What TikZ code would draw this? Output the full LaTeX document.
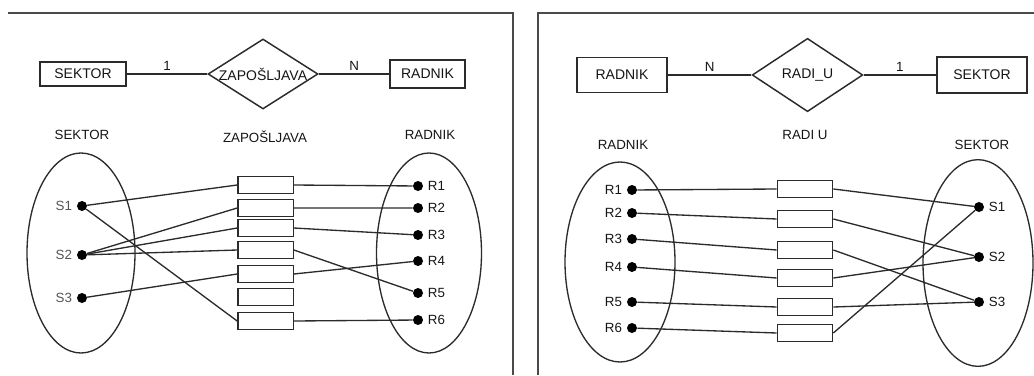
\documentclass[tikz,border=0pt]{standalone}
\usepackage{fontspec}
\setmainfont{Liberation Sans}
\usetikzlibrary{shapes.geometric, positioning}
\definecolor{inkline}{HTML}{2b2b2b}
\definecolor{inktext}{HTML}{151515}
\definecolor{inkgrey}{HTML}{555555}
\definecolor{framegrey}{HTML}{4a4a4a}

\tikzset{
  entity/.style={draw=inkline, line width=1.1pt, fill=white, inner sep=0pt,
    text=inktext, font=\fontsize{10.5}{12}\selectfont},
  relship/.style={diamond, draw=inkline, line width=1.1pt, fill=white, inner sep=0pt,
    label={[text=inktext, font=\fontsize{10.5}{12}\selectfont]center:#1}},
  settitle/.style={text=inktext, font=\fontsize{10}{12}\selectfont},
  setshape/.style={ellipse, draw=inkline, line width=1pt, inner sep=0pt},
  pairbox/.style={draw=inkline, line width=1pt, fill=white, inner sep=0pt,
    minimum width=41.5pt, minimum height=13pt},
  elem/.style={circle, fill=black, inner sep=0pt, minimum size=7.5pt,
    label distance=4pt},
  elemtext/.style={text=inktext, font=\fontsize{10}{12}\selectfont},
  conn/.style={draw=inkline, line width=1pt},
  card/.style={above, inner sep=2pt, text=inktext, font=\fontsize{10}{12}\selectfont},
  frameline/.style={draw=framegrey, line width=1.4pt}
}

\begin{document}
\begin{tikzpicture}[x=0.75pt, y=-0.75pt]
    \useasboundingbox (0,0) rectangle (1034,375);

    % left panel
    \draw[frameline] (8,13) -- (513,13) -- (513,375);
    \node[entity, minimum width=64.5pt, minimum height=18pt] (sekA) at (83,74) {SEKTOR};
    \node[relship=ZAPOŠLJAVA, minimum width=82.5pt, minimum height=52.5pt] (zap) at (263,74) {};
    \node[entity, minimum width=56pt, minimum height=21pt] (radA) at (427.5,74) {RADNIK};
    \draw[conn] (sekA) -- node[card] {1} (zap);
    \draw[conn] (zap) -- node[card] {N} (radA);

    \node[settitle] (tSekA) at (82,135) {SEKTOR};
    \node[settitle] (tZap) at (265,137) {ZAPOŠLJAVA};
    \node[settitle] (tRadA) at (430,135) {RADNIK};
    \node[setshape, minimum width=81pt, minimum height=150pt] (setSekA) at (81,253) {};
    \node[setshape, minimum width=78.75pt, minimum height=150pt] (setRadA) at (429,253) {};

    \foreach \i/\y in {1/206, 2/255, 3/298}
      \node[elem, label={[elemtext, text=inkgrey]left:S\i}] (sA\i) at (82,\y) {};
    \foreach \i/\y in {1/185, 2/208, 3/228, 4/250, 5/274, 6/297, 7/321}
      \node[pairbox] (pA\i) at (265.5,\y) {};
    \foreach \i/\y in {1/186, 2/208, 3/235, 4/261, 5/293, 6/320}
      \node[elem, label={[elemtext]right:R\i}] (rA\i) at (418,\y) {};

    \draw[conn] (sA1) -- (pA1.west) (pA1.east) -- (rA1);
    \draw[conn] (sA2) -- (pA2.west) (pA2.east) -- (rA2);
    \draw[conn] (sA2) -- (pA3.west) (pA3.east) -- (rA3);
    \draw[conn] (sA2) -- (pA4.west) (pA4.east) -- (rA5);
    \draw[conn] (sA3) -- (pA5.west) (pA5.east) -- (rA4);
    \draw[conn] (sA1) -- (pA7.west) (pA7.east) -- (rA6);

    % right panel
    \draw[frameline] (538,375) -- (538,13) -- (1034,13);
    \node[entity, minimum width=67.5pt, minimum height=26pt] (radB) at (622,75) {RADNIK};
    \node[relship=RADI\_U, minimum width=83pt, minimum height=55pt] (radi) at (807.5,75) {};
    \node[entity, minimum width=67.5pt, minimum height=27pt] (sekB) at (982,75) {SEKTOR};
    \draw[conn] (radB) -- node[card] {N} (radi);
    \draw[conn] (radi) -- node[card] {1} (sekB);

    \node[settitle] (tRadB) at (623,145) {RADNIK};
    \node[settitle] (tRadi) at (805,135) {RADI U};
    \node[settitle] (tSekB) at (982,145) {SEKTOR};
    \node[setshape, minimum width=82.5pt, minimum height=150pt] (setRadB) at (620,262) {};
    \node[setshape, minimum width=82.5pt, minimum height=155pt] (setSekB) at (978,263) {};

    \foreach \i/\y in {1/190, 2/213, 3/239, 4/267, 5/302, 6/328}
      \node[elem, label={[elemtext]left:R\i}] (rB\i) at (632,\y) {};
    \foreach \i/\y in {1/189, 2/219, 3/250, 4/278, 5/307, 6/333}
      \node[pairbox] (pB\i) at (805,\y) {};
    \foreach \i/\y in {1/207, 2/257, 3/302}
      \node[elem, label={[elemtext]right:S\i}] (sB\i) at (979,\y) {};

    \draw[conn] (rB1) -- (pB1.west) (pB1.east) -- (sB1);
    \draw[conn] (rB2) -- (pB2.west) (pB2.east) -- (sB2);
    \draw[conn] (rB3) -- (pB3.west) (pB3.east) -- (sB3);
    \draw[conn] (rB4) -- (pB4.west) (pB4.east) -- (sB2);
    \draw[conn] (rB5) -- (pB5.west) (pB5.east) -- (sB3);
    \draw[conn] (rB6) -- (pB6.west) (pB6.east) -- (sB1);
  \end{tikzpicture}
\end{document}
